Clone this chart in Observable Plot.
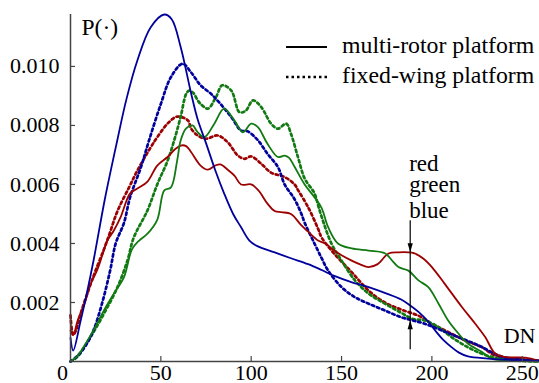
<!DOCTYPE html>
<html><head><meta charset="utf-8">
<script src="https://cdn.jsdelivr.net/npm/d3@7"></script>
<script src="https://cdn.jsdelivr.net/npm/@observablehq/plot@0.6"></script>
<style>
html,body{margin:0;padding:0;background:#fff;}
#chart{position:relative;width:539px;height:383px;font-family:"Liberation Serif","Times New Roman",serif;}
#legend{position:absolute;left:0;top:0;pointer-events:none;}
</style></head><body><div id="chart"></div>
<script>
// ---- data (DN vs probability) ----
const rotorRedDN = [0,1.5,4,8,11,14.8,17.6,20.4,24,27.8,33,37,42.6,48,53.7,58,61,64,66.7,72,76,80,83,87,90.7,94.4,100,104,109,113,116.7,122,127.8,131.5,137,141,146,150,155.6,160,165,170,176,181.5,187,190,195,200,207,216.7,224,229.6,235,240.7,251.7,259];
const rotorRedP  = [0.00105,0.0009,0.0014,0.002,0.0026,0.0031,0.0036,0.0041,0.00444,0.0049,0.0057,0.00586,0.0061,0.00664,0.00693,0.0072,0.00732,0.0073,0.0071,0.00664,0.0065,0.00664,0.00668,0.0065,0.0063,0.006,0.006,0.0058,0.00535,0.0051,0.00506,0.005,0.00461,0.0044,0.0041,0.004,0.00376,0.0036,0.00342,0.0033,0.0032,0.0033,0.00366,0.0037,0.0037,0.00367,0.0035,0.0032,0.00264,0.00184,0.00128,0.00082,0.00027,0.00015,0.00013,0.00003];

const rotorGreenDN = [0,4,9.3,14,18.5,24,29.6,34,38,42.6,48,51.9,55.6,59,61,64,67.6,70,74,79.6,85,90.7,95.4,100,103.7,109,114.8,118.5,121,124,129.6,135,139,142.6,148,155.6,165,174,178,181.5,187,192.6,198,203.7,209,214.8,220,227.8,233,245,259];
const rotorGreenP  = [0,0.0002,0.0007,0.0012,0.00173,0.0023,0.00286,0.0038,0.0041,0.00433,0.0048,0.0058,0.0059,0.0068,0.0075,0.0079,0.008,0.0078,0.0076,0.00806,0.00857,0.00817,0.00777,0.00806,0.00794,0.00738,0.00693,0.00698,0.0069,0.0066,0.006,0.00557,0.0052,0.00455,0.004,0.00383,0.00376,0.00367,0.00342,0.0032,0.00308,0.00275,0.00252,0.00196,0.00139,0.00094,0.0006,0.00032,0.0001,0.00003,0];

const rotorBlueDN = [0,1.5,5.5,9,13,19,25.9,31,37,44.4,51.9,56,61,66.7,70.4,75,80,85,90,94.4,99,103.7,113,122,131.5,139,146,155,165,175,183,188,192.6,198,201.8,206,211,215,220,231,245,259];
const rotorBlueP  = [0.0008,0.00037,0.00135,0.0023,0.0035,0.0055,0.0075,0.0089,0.0102,0.01133,0.01176,0.0116,0.01065,0.0091,0.0082,0.0074,0.0065,0.0057,0.005,0.00455,0.0041,0.0039,0.0037,0.0035,0.0033,0.0031,0.0029,0.0027,0.00252,0.0023,0.0021,0.0019,0.00168,0.00135,0.00105,0.00075,0.00048,0.0003,0.00017,0.0001,0.00005,0.00003];

const wingRedDN = [0,1.5,3,6,11,14,18.5,22,26,32.4,37,44.4,48,53.7,59,65,66.7,70.4,75,81.5,87,92.6,96.3,100,105.6,111,118.5,124,126,131.5,137,139,146,155.6,165,174,183,192.6,200,209,218.5,227.8,235,245,259];
const wingRedP  = [0.00156,0.0009,0.00105,0.0017,0.0026,0.0031,0.0038,0.0044,0.0051,0.0059,0.00647,0.00726,0.0076,0.00806,0.0083,0.00817,0.0079,0.00766,0.00755,0.00766,0.00743,0.00698,0.00687,0.00695,0.0067,0.0064,0.00625,0.006,0.0058,0.00523,0.0045,0.0042,0.00365,0.00303,0.0024,0.002,0.00176,0.00155,0.00128,0.001,0.00071,0.00048,0.0002,0.0001,0.00003];

const wingGreenDN = [0,3.7,11,18.5,26,31.5,35,42.6,48,53.7,57.4,61,64,65.7,68,70.4,72,76,80.5,84,89,93.5,97,101,105.6,111,114.8,119.4,122,126,129.6,135,137,139,144.4,150,157.4,165,174,183,189,196,203.7,211,220,227.8,237,250,259];
const wingGreenP  = [0,0.00015,0.00082,0.00162,0.00252,0.00342,0.0042,0.00512,0.006,0.0068,0.0075,0.0083,0.00907,0.00918,0.0091,0.00885,0.00873,0.00857,0.00896,0.00936,0.00918,0.00845,0.0085,0.00885,0.00862,0.00806,0.00789,0.00806,0.00772,0.0069,0.0062,0.0057,0.0053,0.0049,0.004,0.00342,0.00275,0.0023,0.00196,0.00165,0.00145,0.00139,0.00116,0.00082,0.00048,0.00026,0.0001,0.00002,0];

const wingBlueDN = [0,4,9,13,17.6,22,25,29.6,33,39,43.5,50,55.6,62,66.7,72,77.8,83,89,94.4,98,103.7,109,114.8,118.5,124,127.8,129.6,135,139,142.6,150,157.4,165,174,183,189,196,205.6,214.8,226,237,244,259];
const wingBlueP  = [0,0.0002,0.0006,0.0011,0.002,0.0031,0.004,0.0047,0.00557,0.00659,0.0075,0.00873,0.00964,0.01009,0.0098,0.00936,0.00907,0.00873,0.00828,0.00783,0.0078,0.0075,0.00704,0.00659,0.006,0.0055,0.005,0.0047,0.004,0.0035,0.00308,0.00252,0.00218,0.00196,0.00173,0.0015,0.0014,0.00128,0.00105,0.00082,0.00054,0.0002,0.0001,0.00002];

const xTicks = [50, 100, 150, 200, 250];
const yTicks = [0.002, 0.004, 0.006, 0.008, 0.010];
const colors = {red: "#9c0000", green: "#127a12", blue: "#00009c"};
const legendLabels = ["multi-rotor platform", "fixed-wing platform"];
const annotLabels = ["red", "green", "blue"];
const annotP = [0.00644, 0.00576, 0.00488];
const arrowDN = 188;
const arrowTopP = 0.00477, arrowBottomP = 0.0004, arrowDownTipP = 0.0037, arrowUpTipP = 0.0014;

function series(dn, p, color, platform) {
  return dn.map((x, i) => ({x, y: p[i], color, platform}));
}
const rotor = [
  series(rotorRedDN, rotorRedP, "red", "rotor"),
  series(rotorGreenDN, rotorGreenP, "green", "rotor"),
  series(rotorBlueDN, rotorBlueP, "blue", "rotor")
];
const wing = [
  series(wingRedDN, wingRedP, "red", "wing"),
  series(wingGreenDN, wingGreenP, "green", "wing"),
  series(wingBlueDN, wingBlueP, "blue", "wing")
];

const font = '"Liberation Serif","Times New Roman",serif';
const dotted = "2.5 3";
const headDown = {draw(ctx) { ctx.moveTo(0, 0); ctx.lineTo(-2.6, -9); ctx.lineTo(2.6, -9); ctx.closePath(); }};
const headUp = {draw(ctx) { ctx.moveTo(0, 0); ctx.lineTo(-2.6, 9); ctx.lineTo(2.6, 9); ctx.closePath(); }};

const marks = [];
for (const s of wing) marks.push(Plot.line(s, {x: "x", y: "y", stroke: colors[s[0].color], strokeWidth: 2.7, strokeDasharray: dotted, curve: "catmull-rom"}));
for (const s of rotor) marks.push(Plot.line(s, {x: "x", y: "y", stroke: colors[s[0].color], strokeWidth: 1.8, curve: "catmull-rom"}));

const chart = Plot.plot({
  width: 539, height: 383,
  marginLeft: 70, marginRight: 1, marginTop: 14, marginBottom: 22,
  style: {fontFamily: font, fontSize: "22px", background: "white", color: "black"},
  x: {domain: [0, 259]},
  y: {domain: [0, 0.01176]},
  marks: [
    ...marks,
    Plot.ruleX([arrowDN], {y1: arrowBottomP, y2: arrowTopP, stroke: "black", strokeWidth: 1.2}),
    Plot.dot([arrowDownTipP], {x: () => arrowDN, y: d => d, symbol: headDown, fill: "black", stroke: null}),
    Plot.dot([arrowUpTipP], {x: () => arrowDN, y: d => d, symbol: headUp, fill: "black", stroke: null}),
    Plot.text(annotLabels, {x: () => arrowDN, y: (d, i) => annotP[i], text: d => d, textAnchor: "start", lineAnchor: "bottom", dx: -1, fontSize: 23, fill: "black"}),
    Plot.ruleX([0], {stroke: "#444", strokeWidth: 1.5}),
    Plot.ruleY([0], {stroke: "#444", strokeWidth: 1.5}),
    Plot.axisX(xTicks, {tickSize: -5, tickFormat: () => "", label: null, stroke: "#444", strokeWidth: 1.2}),
    Plot.axisX(xTicks, {tickSize: 0, tickPadding: 3, label: null, fill: "black"}),
    Plot.axisX([0], {tickSize: 0, tickPadding: 3, dx: -8, label: null, fill: "black"}),
    Plot.axisY(yTicks, {tickSize: -5, tickFormat: () => "", label: null, stroke: "#444", strokeWidth: 1.2}),
    Plot.axisY(yTicks, {tickSize: 0, tickPadding: 11, tickFormat: d => d.toFixed(3), label: null, fill: "black"}),
    Plot.text(["P(·)"], {frameAnchor: "top-left", dx: 11, dy: 20, lineAnchor: "bottom", textAnchor: "start", fontSize: 23.5, fill: "black"}),
    Plot.text(["DN"], {frameAnchor: "bottom-right", dx: -3, dy: -19, lineAnchor: "bottom", textAnchor: "end", fontSize: 22, fill: "black"})
  ]
});
const container = document.getElementById("chart");
container.appendChild(chart);

// legend overlay
const lg = d3.select(container).append("svg").attr("id", "legend").attr("width", 539).attr("height", 100);
const rows = [{y: 47, dash: null, sw: 1.8}, {y: 77, dash: dotted, sw: 2.7}];
rows.forEach((r, i) => {
  lg.append("line").attr("x1", 286).attr("x2", 327).attr("y1", r.y).attr("y2", r.y)
    .attr("stroke", "black").attr("stroke-width", r.sw).attr("stroke-dasharray", r.dash);
  lg.append("text").attr("x", 342).attr("y", r.y + 5.5).attr("font-family", font).attr("font-size", 23.8)
    .attr("fill", "black").text(legendLabels[i]);
});
</script></body></html>
